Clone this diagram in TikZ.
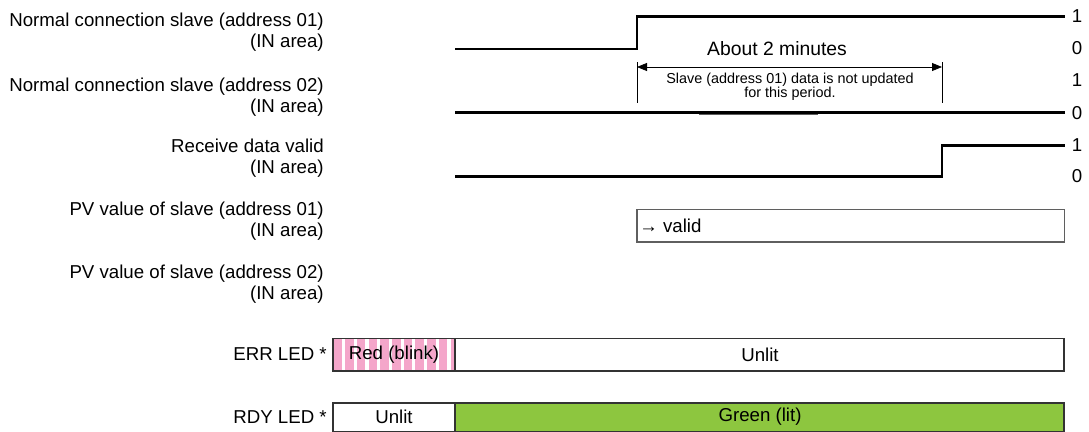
\documentclass[tikz,border=0pt]{standalone}
\usepackage{fontspec}
\setmainfont{Liberation Sans}
\usetikzlibrary{arrows.meta}
\definecolor{ledpink}{RGB}{244,166,202}
\definecolor{ledgreen}{RGB}{141,198,63}
\definecolor{boxgray}{RGB}{95,95,95}
\tikzset{
  sigtext/.style={anchor=east,align=right,inner sep=0,font=\fontsize{14}{15.75}\selectfont},
  lvltext/.style={inner sep=0,font=\fontsize{14}{15.75}\selectfont},
  sigline/.style={line width=2pt},
  ledbox/.style={draw=black!80,line width=0.9pt}
}
\begin{document}
\begin{tikzpicture}[x=0.75pt,y=0.75pt,yscale=-1,xscale=1]
\useasboundingbox (0,0) rectangle (1089,432);

%Text: signal names
\node [sigtext] (nc01) at (324,32) {Normal connection slave (address 01)\\(IN area)};
\node [sigtext] (nc02) at (324,97.5) {Normal connection slave (address 02)\\(IN area)};
\node [sigtext] (rdv) at (324,158) {Receive data valid\\(IN area)};
\node [sigtext] (pv01) at (324,221) {PV value of slave (address 01)\\(IN area)};
\node [sigtext] (pv02) at (324,284.5) {PV value of slave (address 02)\\(IN area)};
\node [sigtext] (errled) at (327,354.5) {ERR LED *};
\node [sigtext] (rdyled) at (327,417) {RDY LED *};

%Straight Lines: normal connection slave 01
\draw [sigline] (455,49) -- (637,49) -- (637,16.5) -- (1065,16.5) ;
\node [lvltext] (hi01) at (1077,16.5) {1};
\node [lvltext] (lo01) at (1077,48) {0};

%Straight Lines: normal connection slave 02
\draw [color=boxgray,line width=1.5pt] (699,114.3) -- (818,114.3) ;
\draw [sigline] (455,112.7) -- (1065,112.7) ;
\node [lvltext] (hi02) at (1077,80) {1};
\node [lvltext] (lo02) at (1077,112.7) {0};

%Straight Lines: receive data valid
\draw [sigline] (455,176.5) -- (942,176.5) -- (942,145.5) -- (1065,145.5) ;
\node [lvltext] (hi03) at (1077,145.5) {1};
\node [lvltext] (lo03) at (1077,176.5) {0};

%Dimension: about 2 minutes
\draw [line width=0.5pt] (637,62) -- (637,103) ;
\draw [line width=0.5pt] (942,62) -- (942,103) ;
\coordinate (dimL) at (637,67);
\coordinate (dimR) at (942,67);
\draw [line width=0.6pt,{Triangle[length=7.5pt,width=6pt]}-{Triangle[length=7.5pt,width=6pt]}] (dimL) -- (dimR) ;
\node [lvltext,font=\fontsize{14.5}{16}\selectfont] (about) at (777,49) {About 2 minutes};
\node [inner sep=0,align=center,font=\fontsize{10.8}{10.5}\selectfont] (note) at (790,87) {Slave (address 01) data is not updated\\for this period.};

%Shape: Rectangle PV value
\draw [color=boxgray,line width=1.1pt] (637,209.5) rectangle (1064.5,242) ;
\node [lvltext,anchor=west] (valid) at (639,226) {→ valid};

%Shape: Rectangle ERR LED
\fill [ledpink] (333,338.5) rectangle (455,371) ;
\foreach \i in {0,...,9}
  \fill [white] ({342+\i*11.7},338.5) rectangle ++(3.2,32.5) ;
\draw [ledbox] (333,338.5) rectangle (455,371) ;
\draw [ledbox] (455,338.5) rectangle (1064,371) ;
\node [lvltext] (redblink) at (394,354.5) {Red (blink)};
\node [lvltext] (errunlit) at (760,354.5) {Unlit};

%Shape: Rectangle RDY LED
\draw [ledbox] (333,403) rectangle (455,431.5) ;
\draw [ledbox,fill=ledgreen] (455,403) rectangle (1064,431.5) ;
\node [lvltext] (rdyunlit) at (394,417) {Unlit};
\node [lvltext] (greenlit) at (760,417) {Green (lit)};
\end{tikzpicture}
\end{document}
